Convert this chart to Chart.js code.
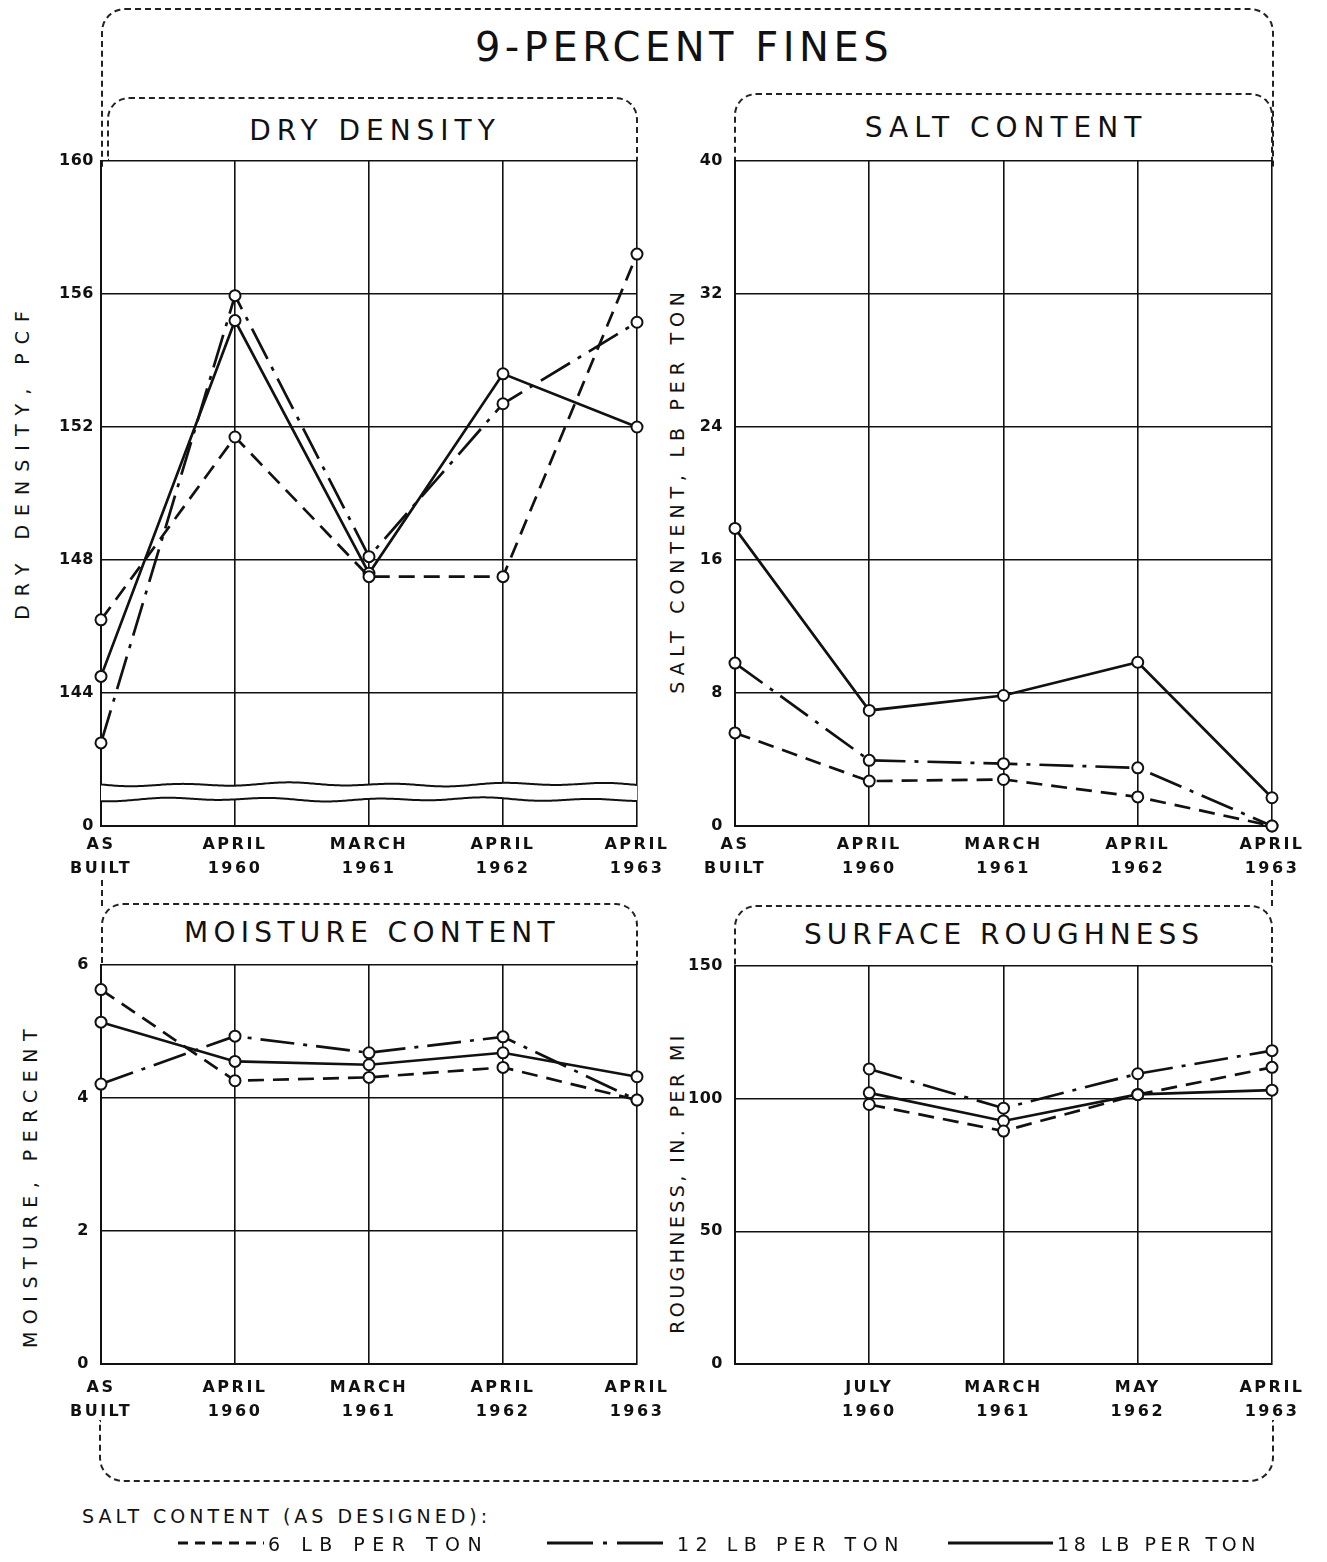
<!DOCTYPE html>
<html>
<head>
<meta charset="utf-8">
<script src="https://cdn.jsdelivr.net/npm/chart.js@4.4.1/dist/chart.umd.min.js"></script>
<style>
  body { margin: 0; background: #fff; }
  #page { position: relative; width: 1327px; height: 1562px; overflow: hidden;
          font-family: "DejaVu Sans", sans-serif; color: #111; background: #fff; }
  .frame { position: absolute; box-sizing: border-box; border: 2px dashed #222; }
  .txt { position: absolute; white-space: nowrap; line-height: 1; }
  .ctr { transform: translate(-50%, -50%); }
  .lft { transform: translate(0, -50%); }
  .rot { transform: translate(-50%, -50%) rotate(-90deg); }
  .cv { position: absolute; }
  .cv canvas { display: block; }
  svg { position: absolute; left: 0; top: 0; }
</style>
</head>
<body>
<div id="page">
  <!-- outer frame, in pieces (interrupted by axis labels) -->
  <div class="frame" style="left:101px;top:8px;width:1173px;height:160px;border-bottom:none;border-radius:24px 24px 0 0;"></div>
  <div class="frame" style="left:101px;top:880px;width:2px;height:26px;border:none;border-left:2px dashed #222;"></div>
  <div class="frame" style="left:1271px;top:880px;width:2px;height:26px;border:none;border-left:2px dashed #222;"></div>
  <div class="frame" style="left:99px;top:1420px;width:1175px;height:62px;border-top:none;border-radius:0 0 24px 24px;"></div>

  <!-- panel title boxes -->
  <div class="frame" style="left:107px;top:97px;width:531px;height:64px;border-bottom:none;border-radius:22px 22px 0 0;"></div>
  <div class="frame" style="left:734px;top:93px;width:539px;height:68px;border-bottom:none;border-radius:22px 22px 0 0;"></div>
  <div class="frame" style="left:101px;top:903px;width:537px;height:62px;border-bottom:none;border-radius:22px 22px 0 0;"></div>
  <div class="frame" style="left:734px;top:905px;width:539px;height:61px;border-bottom:none;border-radius:22px 22px 0 0;"></div>

  <!-- titles -->
  <div class="txt ctr" style="left:684px;top:47px;font-size:40px;letter-spacing:4.5px;">9-PERCENT FINES</div>
  <div class="txt ctr" style="left:375px;top:131px;font-size:28px;letter-spacing:6px;">DRY DENSITY</div>
  <div class="txt ctr" style="left:1006px;top:128px;font-size:28px;letter-spacing:6px;">SALT CONTENT</div>
  <div class="txt ctr" style="left:372px;top:933px;font-size:28px;letter-spacing:5.3px;">MOISTURE CONTENT</div>
  <div class="txt ctr" style="left:1004px;top:935px;font-size:28px;letter-spacing:5px;">SURFACE ROUGHNESS</div>

  <!-- y-axis titles -->
  <div class="txt rot" style="left:22px;top:461px;font-size:19px;letter-spacing:9px;">DRY DENSITY, PCF</div>
  <div class="txt rot" style="left:677px;top:490px;font-size:19px;letter-spacing:5.8px;">SALT CONTENT, LB PER TON</div>
  <div class="txt rot" style="left:30px;top:1185px;font-size:19px;letter-spacing:7.5px;">MOISTURE, PERCENT</div>
  <div class="txt rot" style="left:677px;top:1183px;font-size:19px;letter-spacing:3.4px;">ROUGHNESS, IN. PER MI</div>

  <!-- charts -->
  <div class="cv" style="left:0px;top:100px;"><canvas id="c1" width="690" height="800"></canvas></div>
  <div class="cv" style="left:645px;top:100px;"><canvas id="c2" width="680" height="800"></canvas></div>
  <div class="cv" style="left:0px;top:900px;"><canvas id="c3" width="690" height="530"></canvas></div>
  <div class="cv" style="left:645px;top:900px;"><canvas id="c4" width="680" height="530"></canvas></div>

  <!-- legend -->
  <div class="txt lft" style="left:82px;top:1516px;font-size:19px;letter-spacing:4px;">SALT CONTENT (AS DESIGNED):</div>
  <svg width="1327" height="1562" style="pointer-events:none;">
    <line x1="178" y1="1543" x2="264" y2="1543" stroke="#111" stroke-width="3" stroke-dasharray="10 7"/>
    <line x1="547" y1="1543" x2="667" y2="1543" stroke="#111" stroke-width="3" stroke-dasharray="46 10 4 10"/>
    <line x1="948" y1="1543" x2="1053" y2="1543" stroke="#111" stroke-width="3"/>
  </svg>
  <div class="txt lft" id="lg6" style="left:268px;top:1544px;font-size:19px;letter-spacing:7.5px;"></div>
  <div class="txt lft" id="lg12" style="left:677px;top:1544px;font-size:19px;letter-spacing:6.5px;"></div>
  <div class="txt lft" id="lg18" style="left:1057px;top:1544px;font-size:19px;letter-spacing:4.6px;"></div>
</div>

<script>
// ---------------- data ----------------
const timeLabels = [['AS', 'BUILT'], ['APRIL', '1960'], ['MARCH', '1961'], ['APRIL', '1962'], ['APRIL', '1963']];
const roughLabels = ['', ['JULY', '1960'], ['MARCH', '1961'], ['MAY', '1962'], ['APRIL', '1963']];
const seriesNames = ['6 LB PER TON', '12 LB PER TON', '18 LB PER TON'];

// dry density, pcf (axis broken between 0 and 144; bottom tick drawn as "0")
const density6  = [146.2, 151.7, 147.5, 147.5, 157.2];
const density12 = [142.5, 155.95, 148.1, 152.7, 155.15];
const density18 = [144.5, 155.2, 147.6, 153.6, 152.0];
const densityTicks = [140, 144, 148, 152, 156, 160];

// salt content, lb per ton
const salt6  = [5.6, 2.7, 2.8, 1.75, 0];
const salt12 = [9.8, 3.95, 3.75, 3.5, 0];
const salt18 = [17.9, 6.95, 7.85, 9.85, 1.7];
const saltTicks = [0, 8, 16, 24, 32, 40];

// moisture, percent
const moist6  = [5.63, 4.26, 4.31, 4.46, 3.97];
const moist12 = [4.21, 4.93, 4.68, 4.92, 3.97];
const moist18 = [5.14, 4.55, 4.5, 4.68, 4.32];
const moistTicks = [0, 2, 4, 6];

// surface roughness, in. per mi
const rough6  = [null, 97.8, 87.8, 101.5, 111.8];
const rough12 = [null, 111.2, 96.4, 109.4, 118.1];
const rough18 = [null, 102.2, 91.6, 101.6, 103.2];
const roughTicks = [0, 50, 100, 150];

document.getElementById('lg6').textContent = seriesNames[0];
document.getElementById('lg12').textContent = seriesNames[1];
document.getElementById('lg18').textContent = seriesNames[2];

// ---------------- styling ----------------
const INK = '#111';
const DASHES = [[16, 9], [34, 9, 4, 9], []];

function datasets(arrs) {
  return arrs.map((d, i) => ({
    label: seriesNames[i],
    data: d,
    borderColor: INK,
    borderWidth: 2.7,
    borderDash: DASHES[i],
    pointRadius: 5.5,
    pointBorderWidth: 2,
    pointBackgroundColor: '#fff',
    pointBorderColor: INK,
    tension: 0,
    spanGaps: false,
    clip: false
  }));
}

// letter spacing for tick labels (lettering-style)
const spacingPlugin = {
  id: 'spacing',
  beforeDraw(chart) {
    [['x', '2.5px'], ['y', '0.5px']].forEach(([id, sp]) => {
      const s = chart.scales[id];
      if (s && !s._spWrapped) {
        const orig = s.drawLabels;
        s.drawLabels = function (a) {
          const c = this.ctx;
          c.save();
          c.letterSpacing = sp;
          orig.call(this, a);
          c.restore();
        };
        s._spWrapped = true;
      }
    });
  }
};

// axis break drawn on the dry-density chart
const breakPlugin = {
  id: 'axisBreak',
  beforeDatasetsDraw(chart, args, opts) {
    if (!opts || !opts.values) return;
    const { ctx, chartArea: a } = chart;
    const ys = opts.values.map(v => chart.scales.y.getPixelForValue(v));
    const wave = (x, k) => 1.3 * Math.sin((x - a.left) / 17 + k) + 0.8 * Math.sin((x - a.left) / 41 + 2 * k);
    ctx.save();
    ctx.fillStyle = '#fff';
    ctx.beginPath();
    for (let x = a.left; x <= a.right; x += 2) ctx.lineTo(x, ys[0] + wave(x, 0));
    for (let x = a.right; x >= a.left; x -= 2) ctx.lineTo(x, ys[1] + wave(x, 1));
    ctx.closePath();
    ctx.fill();
    ctx.strokeStyle = INK;
    ctx.lineWidth = 2;
    ys.forEach((y, k) => {
      ctx.beginPath();
      for (let x = a.left; x <= a.right; x += 2) {
        const yy = y + wave(x, k);
        if (x === a.left) ctx.moveTo(x, yy); else ctx.lineTo(x, yy);
      }
      ctx.stroke();
    });
    ctx.restore();
  }
};

function makeChart(id, cfg) {
  const ticksArr = cfg.ticks;
  return new Chart(document.getElementById(id), {
    type: 'line',
    data: { labels: cfg.labels, datasets: datasets(cfg.series) },
    plugins: [spacingPlugin, breakPlugin],
    options: {
      responsive: false,
      animation: false,
      events: [],
      layout: { padding: { top: cfg.padTop, right: cfg.padRight, left: 0, bottom: 0 } },
      plugins: {
        legend: { display: false },
        tooltip: { enabled: false },
        title: { display: false },
        axisBreak: cfg.breakValues ? { values: cfg.breakValues } : {}
      },
      scales: {
        x: {
          type: 'category',
          offset: false,
          grid: { color: INK, lineWidth: 1.6, drawTicks: false },
          border: { color: INK, width: 2 },
          ticks: {
            color: INK, padding: cfg.xPad, maxRotation: 0, minRotation: 0, autoSkip: false,
            font: { family: 'DejaVu Sans', size: 16, weight: 'bold', lineHeight: 1.5 }
          },
          afterFit(s) { s.height = cfg.xH; }
        },
        y: {
          type: 'linear',
          min: ticksArr[0],
          max: ticksArr[ticksArr.length - 1],
          afterBuildTicks(s) { s.ticks = ticksArr.map(v => ({ value: v })); },
          grid: { color: INK, lineWidth: 1.6, drawTicks: false },
          border: { color: INK, width: 2 },
          ticks: {
            color: INK, padding: cfg.yPad,
            font: { family: 'DejaVu Sans', size: 16, weight: 'bold' },
            callback: cfg.tickCb || (v => String(v))
          },
          afterFit(s) { s.width = cfg.yW; }
        }
      }
    }
  });
}

makeChart('c1', {
  labels: timeLabels, series: [density6, density12, density18], ticks: densityTicks,
  tickCb: v => (v === densityTicks[0] ? '0' : String(v)),
  breakValues: [141.25, 140.8],
  padTop: 61, padRight: 53, yW: 101, xH: 74, xPad: 7, yPad: 7
});
makeChart('c2', {
  labels: timeLabels, series: [salt6, salt12, salt18], ticks: saltTicks,
  padTop: 61, padRight: 53, yW: 90, xH: 74, xPad: 7, yPad: 12
});
makeChart('c3', {
  labels: timeLabels, series: [moist6, moist12, moist18], ticks: moistTicks,
  padTop: 65, padRight: 53, yW: 101, xH: 66, xPad: 12, yPad: 12
});
makeChart('c4', {
  labels: roughLabels, series: [rough6, rough12, rough18], ticks: roughTicks,
  padTop: 66, padRight: 53, yW: 90, xH: 66, xPad: 12, yPad: 12
});
</script>
</body>
</html>
